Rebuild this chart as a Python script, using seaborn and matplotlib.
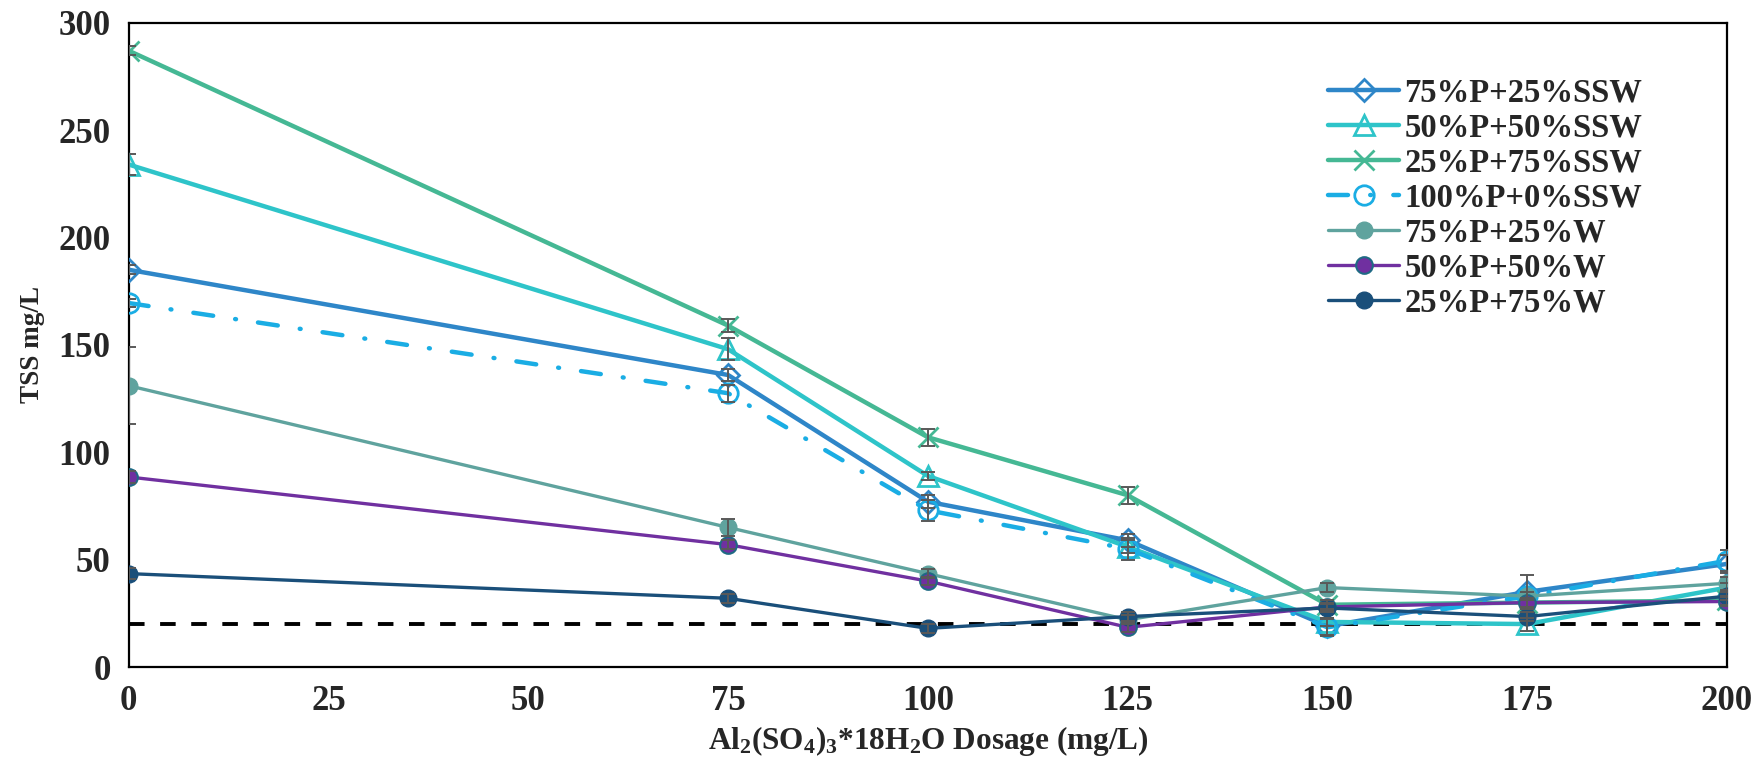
import numpy as np
import pandas as pd
import matplotlib
matplotlib.use("Agg")
import matplotlib.pyplot as plt
import seaborn as sns

# Coagulant dosage (mg/L)
dosage = [0, 75, 100, 125, 150, 175, 200]

# TSS (mg/L) for each blend
tss_75p_25ssw = [185, 136, 77, 59, 19, 35, 48]
tss_50p_50ssw = [234, 148, 89, 56, 21, 20, 37]
tss_25p_75ssw = [287, 159, 107, 80, 29, 30, 31]
tss_100p_0ssw = [169.5, 127.5, 73, 55, 18.5, 33, 49.5]
tss_75p_25w = [131, 65, 43.5, 22, 37, 33, 39]
tss_50p_50w = [88.5, 57, 40, 18.5, 28, 30, 30.5]
tss_25p_75w = [43.5, 32, 18, 23.5, 27.5, 23.5, 33]

# Standard deviations
sd_75p_25ssw = [2, 3, 3, 3, 4, 8, 4]
sd_50p_50ssw = [5, 5, 2, 3, 2, 3, 2]
sd_25p_75ssw = [2, 3, 4, 4, 2, 2, 2]
sd_100p_0ssw = [2, 4, 5, 5, 4, 2, 5]
sd_75p_25w = [18, 4, 2, 2, 2, 2, 3]
sd_50p_50w = [3, 2, 2, 2, 2, 2, 2]
sd_25p_75w = [2.5, 2, 2, 2, 2, 2, 2]

limit_tss = 20  # discharge limit

x_ticks = [0, 25, 50, 75, 100, 125, 150, 175, 200]
y_ticks = [0, 50, 100, 150, 200, 250, 300]

sns.set_theme(style="white")
plt.rcParams["font.family"] = ["Liberation Serif", "DejaVu Serif"]
plt.rcParams["font.weight"] = "bold"
plt.rcParams["mathtext.fontset"] = "custom"
plt.rcParams["mathtext.rm"] = "Liberation Serif:bold"
plt.rcParams["mathtext.bf"] = "Liberation Serif:bold"
plt.rcParams["mathtext.it"] = "Liberation Serif:bold"
plt.rcParams["mathtext.default"] = "rm"

fig = plt.figure(figsize=(17.64, 7.61), dpi=100)
ax = fig.add_axes([0.073, 0.1235, 0.906, 0.8465])

series = [
    ("75%P+25%SSW", tss_75p_25ssw, sd_75p_25ssw,
     dict(color="#2E86C8", marker="D", ms=11, mfc="none", mew=2.0, lw=3.2)),
    ("50%P+50%SSW", tss_50p_50ssw, sd_50p_50ssw,
     dict(color="#2EC4C9", marker="^", ms=14, mfc="none", mew=2.0, lw=3.2)),
    ("25%P+75%SSW", tss_25p_75ssw, sd_25p_75ssw,
     dict(color="#45B894", marker="x", ms=15, mfc="none", mew=2.0, lw=3.2)),
    ("100%P+0%SSW", tss_100p_0ssw, sd_100p_0ssw,
     dict(color="#1AADE4", marker="o", ms=14, mfc="none", mew=2.0, lw=3.2,
          dashes=(4.5, 5.0, 0.2, 5.0))),
    ("75%P+25%W", tss_75p_25w, sd_75p_25w,
     dict(color="#5FA39E", marker="o", ms=12, mfc="#5FA39E", mew=1.0, lw=2.4)),
    ("50%P+50%W", tss_50p_50w, sd_50p_50w,
     dict(color="#7030A0", marker="o", ms=12, mfc="#7030A0", mec="#1F6A84", mew=1.5, lw=2.4)),
    ("25%P+75%W", tss_25p_75w, sd_25p_75w,
     dict(color="#1A4F7A", marker="o", ms=12, mfc="#1A4F7A", mew=1.0, lw=2.4)),
]

for i, (name, vals, sd, st) in enumerate(series):
    df = pd.DataFrame({"dosage": dosage, "tss": vals})
    kw = dict(color=st["color"], marker=st["marker"], markersize=st["ms"],
              markerfacecolor=st["mfc"], markeredgecolor=st.get("mec", st["color"]),
              markeredgewidth=st["mew"], linewidth=st["lw"], label=name,
              zorder=3 + i * 0.1)
    sns.lineplot(data=df, x="dosage", y="tss", ax=ax, **kw)
    line = ax.get_lines()[-1]
    if "dashes" in st:
        line.set_dashes(st["dashes"])
        line.set_dash_capstyle("round")
    ax.errorbar(dosage, vals, yerr=sd, fmt="none", ecolor="#595959",
                elinewidth=1.4, capsize=5, capthick=1.4, zorder=6)

ax.axhline(limit_tss, color="black", lw=2.8, ls=(0, (4, 4)), zorder=2)

ax.set_xlim(0, 200)
ax.set_ylim(0, 300)
ax.set_xticks(x_ticks)
ax.set_yticks(y_ticks)
ax.tick_params(axis="both", direction="out", length=7, width=1.5,
               labelsize=25, color="black", pad=6)
for lab in ax.get_xticklabels() + ax.get_yticklabels():
    lab.set_fontweight("bold")
for sp in ax.spines.values():
    sp.set_visible(True)
    sp.set_color("black")
    sp.set_linewidth(1.6)

ax.set_xlabel(r"Al$_2$(SO$_4$)$_3$*18H$_2$O Dosage (mg/L)", fontsize=22.5,
              fontweight="bold", labelpad=4)
ax.set_ylabel("TSS mg/L", fontsize=19.5, fontweight="bold", labelpad=10)

leg = ax.legend(loc="upper left", bbox_to_anchor=(0.742, 0.935), frameon=False,
                fontsize=23.5, handlelength=2.2, handletextpad=0.15,
                labelspacing=0.12, borderaxespad=0)
for t in leg.get_texts():
    t.set_fontweight("bold")

fig.savefig("out.png", dpi=100)
